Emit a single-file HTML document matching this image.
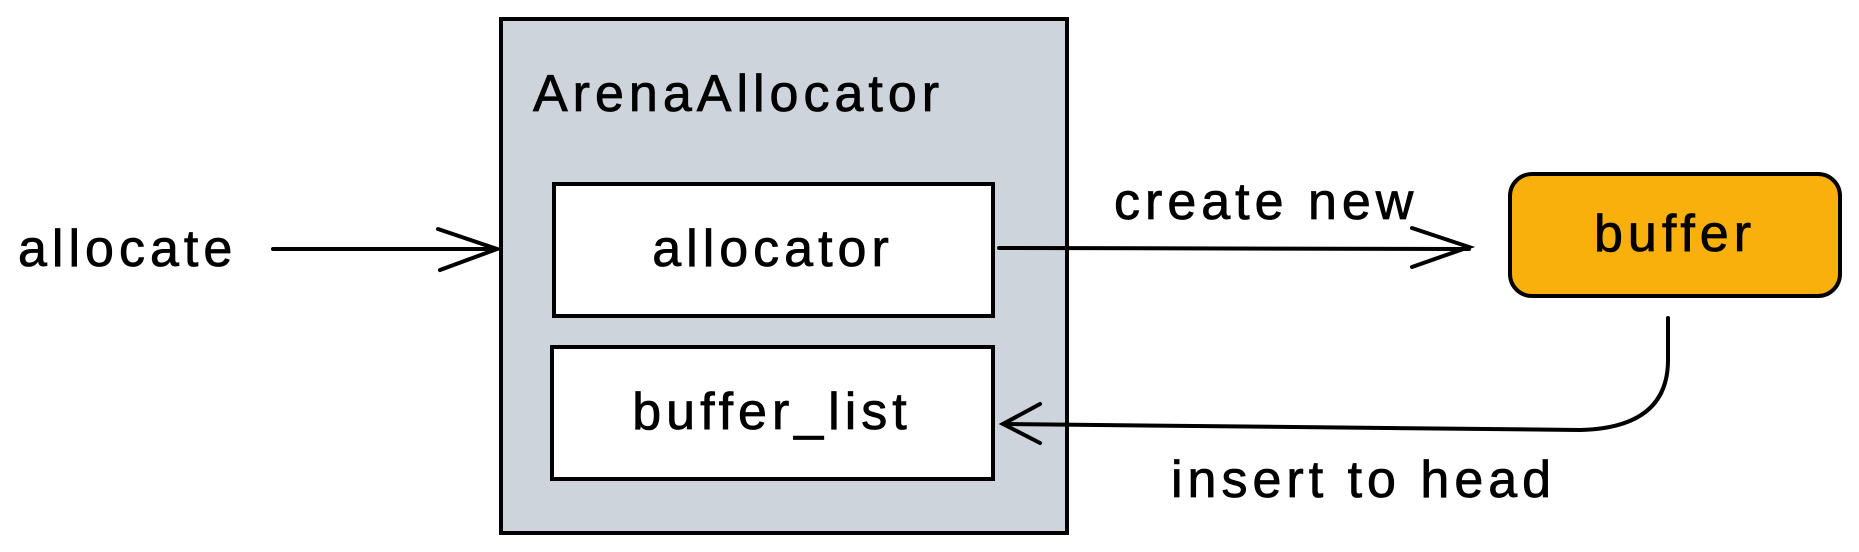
<!DOCTYPE html>
<html><head><meta charset="utf-8"><style>
html,body{margin:0;padding:0;background:#fff;width:1859px;height:552px;overflow:hidden}
svg text{font-family:"Liberation Sans",sans-serif;fill:#000;font-size:52px;letter-spacing:5px;stroke:#000;stroke-width:0.8}
</style></head><body>
<svg width="1859" height="552" viewBox="0 0 1859 552" xmlns="http://www.w3.org/2000/svg">
<rect x="501" y="19" width="566" height="514" fill="#ced4db" stroke="#000" stroke-width="4"/>
<text x="533" y="111">ArenaAllocator</text>
<rect x="554" y="184" width="439" height="132" fill="#fff" stroke="#000" stroke-width="4"/>
<text x="773" y="266" text-anchor="middle">allocator</text>
<rect x="552" y="347" width="441" height="132" fill="#fff" stroke="#000" stroke-width="4"/>
<text x="772" y="429" text-anchor="middle">buffer_list</text>
<text x="18" y="266">allocate</text>
<g stroke="#000" stroke-width="4" fill="none" stroke-linecap="round">
<line x1="273" y1="249" x2="497" y2="249"/>
<path d="M438 229 L497 249 L440 270"/>
<line x1="999" y1="248" x2="1469" y2="249"/>
<path d="M1412 228 L1469 247 L1412 267"/>
<path d="M1668 318 L1668 360 Q1668 428 1580 430 L1003 424"/>
<path d="M1040 404 L1003 424 L1040 443"/>
</g>
<text x="1114" y="219">create new</text>
<rect x="1510" y="174" width="330" height="122" rx="22" fill="#f9b00a" stroke="#000" stroke-width="4"/>
<text x="1675" y="251" text-anchor="middle">buffer</text>
<text x="1171" y="497">insert to head</text>
</svg>
</body></html>
